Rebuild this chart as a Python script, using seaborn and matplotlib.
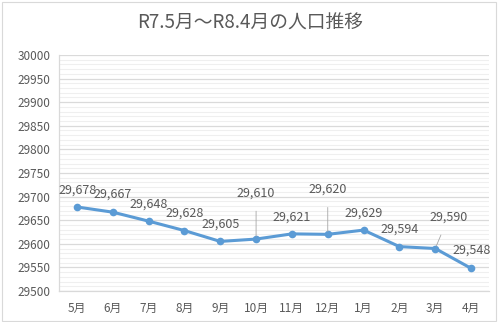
import matplotlib
matplotlib.use("Agg")
import matplotlib.pyplot as plt
from matplotlib.ticker import MultipleLocator
from matplotlib.patches import Rectangle
import seaborn as sns
import pandas as pd

months = ["5月", "6月", "7月", "8月", "9月", "10月", "11月", "12月", "1月", "2月", "3月", "4月"]
population = [29678, 29667, 29648, 29628, 29605, 29610, 29621, 29620, 29629, 29594, 29590, 29548]
# label offsets in pixels (dx, dy) relative to each point; leader line drawn when flagged
label_offsets = [(1, 17), (0, 18), (0, 17), (0, 17), (0, 17), (0, 46), (0, 17), (0, 45), (0, 17), (0, 17), (13, 31), (1, 18)]
leader = [False, False, False, False, False, True, False, True, False, False, True, False]

sns.set_theme(style="white")
plt.rcParams["font.family"] = ["Noto Sans CJK JP", "DejaVu Sans"]

text_color = "#595959"
line_color = "#5B9BD5"

fig = plt.figure(figsize=(5.0, 3.22), dpi=100)
ax = fig.add_axes([0.118, 0.0963, 0.86, 0.733])

df = pd.DataFrame({"month": months, "population": population})
sns.lineplot(data=df, x="month", y="population", ax=ax, color=line_color,
             linewidth=2.2, marker="o", markersize=5.5, markeredgewidth=0, sort=False)

ax.set_ylim(29500, 30000)
ax.set_xlim(-0.5, len(months) - 0.5)
ax.yaxis.set_major_locator(MultipleLocator(50))
ax.yaxis.set_minor_locator(MultipleLocator(10))
ax.grid(which="major", axis="y", color="#DADADA", linewidth=0.9)
ax.grid(which="minor", axis="y", color="#EFEFEF", linewidth=0.8)
ax.set_axisbelow(True)
for side in ["top", "right"]:
    ax.spines[side].set_visible(False)
ax.spines["left"].set_color("#D9D9D9")
ax.spines["bottom"].set_color("#D9D9D9")
ax.spines["left"].set_linewidth(0.9)
ax.spines["bottom"].set_linewidth(0.9)
ax.tick_params(axis="both", which="both", length=0, colors=text_color, labelsize=8.5)
ax.tick_params(axis="x", pad=8)
ax.tick_params(axis="y", pad=6)
ax.set_xlabel("")
ax.set_ylabel("")

for i, (v, (dx, dy), lead) in enumerate(zip(population, label_offsets, leader)):
    ax.annotate(f"{v:,}", xy=(i, v), xytext=(dx, dy), textcoords="offset pixels",
                ha="center", va="center", fontsize=9, color=text_color,
                arrowprops=dict(arrowstyle="-", color="#A6A6A6", lw=0.6,
                                shrinkA=6, shrinkB=2) if lead else None)

fig.suptitle("R7.5月～R8.4月の人口推移", x=0.5, y=0.96, fontsize=13.5, color=text_color)

fig.patches.append(Rectangle((0.004, 0.004), 0.987, 0.99, transform=fig.transFigure,
                             fill=False, edgecolor="#D9D9D9", linewidth=0.8))

fig.savefig("out.png", dpi=100, facecolor="white")
